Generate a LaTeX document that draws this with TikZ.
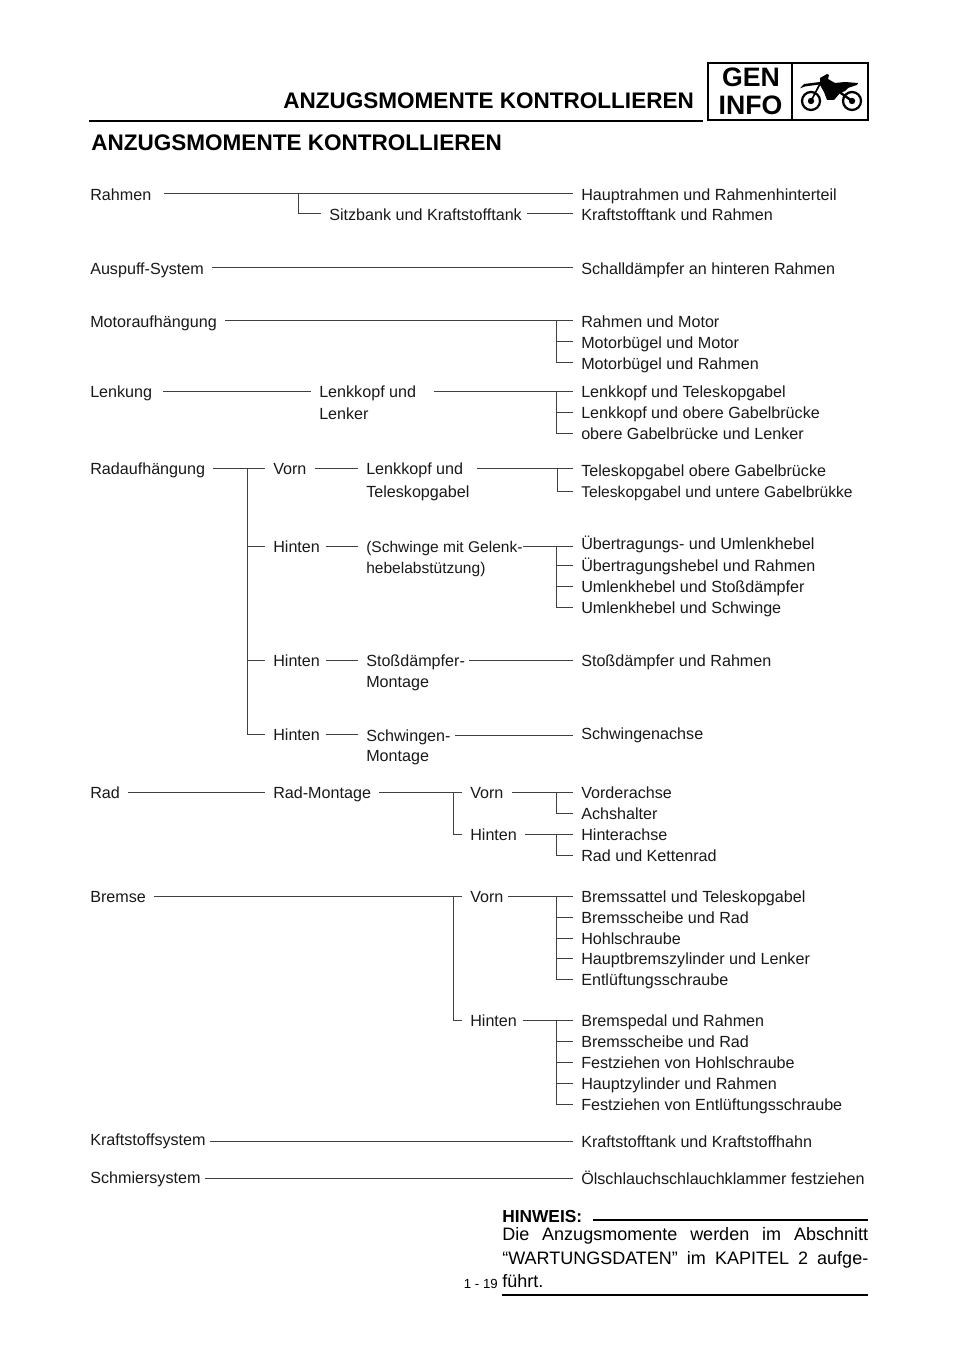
\documentclass[tikz,border=0pt]{standalone}
\usepackage{fontspec}
\setmainfont{Liberation Sans}
\tikzset{
  x=0.75pt,y=-0.75pt,
  lbl/.style={anchor=west,inner xsep=6pt,inner ysep=0pt,text height=9.6pt,text depth=0pt,font=\fontsize{12.1}{14}\selectfont,text=black!90},
  conn/.style={draw=black!75,line width=0.75pt},
  heavy/.style={draw=black,line width=1.8pt},
  ttl/.style={anchor=west,inner sep=0pt,text height=12.6pt,text depth=0pt,font=\fontsize{16.9}{20}\bfseries\selectfont},
  note/.style={anchor=west,inner sep=0pt,text height=9pt,text depth=0pt,font=\fontsize{13.5}{15}\selectfont},
}
\newcommand{\lbx}[5][]{\node[lbl,#1] (#2) at ({#3-8},#4) {#5};}
\begin{document}
\begin{tikzpicture}
\useasboundingbox (0,0) rectangle (960,1358);
\fill[white] (0,0) rectangle (960,1358);
% header
\node[ttl] (h1) at (283,100) {ANZUGSMOMENTE KONTROLLIEREN};
\coordinate (hl) at (89,121); \coordinate (hr) at (703,121);
\draw[heavy] (hl) -- (hr);
\node[ttl] (h2) at (91,142) {ANZUGSMOMENTE KONTROLLIEREN};
\node[draw=black,line width=1.8pt,minimum width=120pt,minimum height=42.75pt,inner sep=0pt,outer sep=0pt,anchor=north west] (box) at (708,63) {};
\coordinate (dt) at (792,63); \coordinate (db) at (792,120);
\draw[line width=1.5pt] (dt) -- (db);
\node[inner sep=0pt,font=\fontsize{20}{22}\bfseries\selectfont] (gen) at (751,77.5) {GEN};
\node[inner sep=0pt,font=\fontsize{20}{22}\bfseries\selectfont] (info) at (750.5,105) {INFO};
% motorbike
\draw[line width=1.7pt] (811,101) circle (9);
\draw[line width=1.7pt] (852,101) circle (9);
\fill (811,101) circle (3.2); \fill (852,101) circle (3.2);
\fill (800,88.3) -- (804,84) -- (812,83) -- (820,82) -- (820,84.5) -- (812,85.5) -- (805,86.5) -- cycle;
\draw[line width=1.3pt] (811,101) -- (822,80);
\draw[line width=1.8pt] (852,101) -- (838,91);
\fill (820,78) -- (827,74) -- (829,75) -- (828,79) -- (835,83) -- (845,82) -- (858,83) -- (857,85) -- (848,88) -- (845,91) -- (840,93) -- (834,100) -- (827,100) -- (824,92) -- (820,85) -- cycle;
% left column
\lbx{rahmen}{90}{194}{Rahmen}
\lbx{auspuff}{90}{268}{Auspuff-System}
\lbx{motor}{90}{321}{Motoraufhängung}
\lbx{lenkung}{90}{391}{Lenkung}
\lbx{radauf}{90}{468}{Radaufhängung}
\lbx{rad}{90}{792}{Rad}
\lbx{bremse}{90}{896}{Bremse}
\lbx{ksys}{90}{1139}{Kraftstoffsystem}
\lbx{schmier}{90}{1177}{Schmiersystem}
% right column
\lbx{r1}{581}{194}{Hauptrahmen und Rahmenhinterteil}
\lbx{r2}{581}{214}{Kraftstofftank und Rahmen}
\lbx{r3}{581}{268}{Schalldämpfer an hinteren Rahmen}
\lbx{r4}{581}{321}{Rahmen und Motor}
\lbx{r5}{581}{342}{Motorbügel und Motor}
\lbx{r6}{581}{363}{Motorbügel und Rahmen}
\lbx{r7}{581}{391}{Lenkkopf und Teleskopgabel}
\lbx{r8}{581}{412}{Lenkkopf und obere Gabelbrücke}
\lbx{r9}{581}{433}{obere Gabelbrücke und Lenker}
\lbx{r10}{581}{470}{Teleskopgabel obere Gabelbrücke}
\lbx[font=\fontsize{11.7}{14}\selectfont]{r11}{581}{491}{Teleskopgabel und untere Gabelbrükke}
\lbx{r12}{581}{543}{Übertragungs- und Umlenkhebel}
\lbx{r13}{581}{565}{Übertragungshebel und Rahmen}
\lbx{r14}{581}{586}{Umlenkhebel und Stoßdämpfer}
\lbx{r15}{581}{607}{Umlenkhebel und Schwinge}
\lbx{r16}{581}{660}{Stoßdämpfer und Rahmen}
\lbx{r17}{581}{733}{Schwingenachse}
\lbx{r18}{581}{792}{Vorderachse}
\lbx{r19}{581}{813}{Achshalter}
\lbx{r20}{581}{834}{Hinterachse}
\lbx{r21}{581}{855}{Rad und Kettenrad}
\lbx{r22}{581}{896}{Bremssattel und Teleskopgabel}
\lbx{r23}{581}{917}{Bremsscheibe und Rad}
\lbx{r24}{581}{938}{Hohlschraube}
\lbx{r25}{581}{958}{Hauptbremszylinder und Lenker}
\lbx{r26}{581}{979}{Entlüftungsschraube}
\lbx{r27}{581}{1020}{Bremspedal und Rahmen}
\lbx{r28}{581}{1041}{Bremsscheibe und Rad}
\lbx{r29}{581}{1062}{Festziehen von Hohlschraube}
\lbx{r30}{581}{1083}{Hauptzylinder und Rahmen}
\lbx{r31}{581}{1104}{Festziehen von Entlüftungsschraube}
\lbx{r32}{581}{1141}{Kraftstofftank und Kraftstoffhahn}
\lbx{r33}{581}{1178}{Ölschlauchschlauchklammer festziehen}
% middle
\lbx{sitz}{329}{214}{Sitzbank und Kraftstofftank}
\lbx{lk}{319}{391}{Lenkkopf und}
\lbx{lk2}{319}{413}{Lenker}
\lbx{vorn}{273}{468}{Vorn}
\lbx{lt}{366}{468}{Lenkkopf und}
\lbx{lt2}{366}{491}{Teleskopgabel}
\lbx{hi1}{273}{546}{Hinten}
\lbx[font=\fontsize{11.65}{14}\selectfont]{sg}{366}{546}{(Schwinge mit Gelenk-}
\lbx[font=\fontsize{11.65}{14}\selectfont]{sg2}{366}{567}{hebelabstützung)}
\lbx{hi2}{273}{660}{Hinten}
\lbx{st}{366}{660}{Stoßdämpfer-}
\lbx{st2}{366}{681}{Montage}
\lbx{hi3}{273}{734}{Hinten}
\lbx{sw}{366}{735}{Schwingen-}
\lbx{sw2}{366}{755}{Montage}
\lbx{rm}{273}{792}{Rad-Montage}
\lbx{vr}{470}{792}{Vorn}
\lbx{hr2}{470}{834}{Hinten}
\lbx{vb}{470}{896}{Vorn}
\lbx{hb}{470}{1020}{Hinten}
% junctions
\coordinate (j1) at (298,194);
\coordinate (j2) at (556,321);
\coordinate (j3) at (556,391);
\coordinate (j4) at (247,468);
\coordinate (j5) at (557,468);
\coordinate (j6) at (556,546);
\coordinate (j7) at (453,792);
\coordinate (j8) at (556,792);
\coordinate (j9) at (556,834);
\coordinate (j10) at (453,896);
\coordinate (j11) at (556,896);
\coordinate (j12) at (556,1020);
% connectors
\draw[conn,shorten <=3pt] (rahmen.east) -- (r1.west);
\draw[conn] (j1) |- (sitz.west);
\draw[conn,shorten <=-2pt] (sitz.east) -- (r2.west);
\draw[conn] (auspuff.east) -- (r3.west);
\draw[conn] (motor.east) -- (r4.west);
\draw[conn] (j2) |- (r5.west);
\draw[conn] (j2) |- (r6.west);
\draw[conn,shorten <=2pt] (lenkung.east) -- (lk.west);
\draw[conn,shorten <=7pt] (lk.east) -- (r7.west);
\draw[conn] (j3) |- (r8.west);
\draw[conn] (j3) |- (r9.west);
\draw[conn] (radauf.east) -- (vorn.west);
\draw[conn] (j4) |- (hi1.west);
\draw[conn] (j4) |- (hi2.west);
\draw[conn] (j4) |- (hi3.west);
\draw[conn] (vorn.east) -- (lt.west);
\draw[conn,shorten <=4pt] (lt.east) -- (lt.east -| r10.west);
\draw[conn] (j5) |- (r11.west);
\draw[conn,shorten <=-1.5pt] (hi1.east) -- (sg.west);
\draw[conn,shorten <=-6pt] (sg.east) -- (sg.east -| r12.west);
\draw[conn] (j6) |- (r13.west);
\draw[conn] (j6) |- (r14.west);
\draw[conn] (j6) |- (r15.west);
\draw[conn,shorten <=-1.5pt] (hi2.east) -- (st.west);
\draw[conn,shorten <=-3pt] (st.east) -- (r16.west);
\draw[conn,shorten <=-1.5pt] (hi3.east) -- (hi3.east -| sw.west);
\draw[conn,shorten <=-3pt] (sw.east) -- (sw.east -| r17.west);
\draw[conn] (rad.east) -- (rm.west);
\draw[conn] (rm.east) -- (vr.west);
\draw[conn] (j7) |- (hr2.west);
\draw[conn] (vr.east) -- (r18.west);
\draw[conn] (j8) |- (r19.west);
\draw[conn] (hr2.east) -- (r20.west);
\draw[conn] (j9) |- (r21.west);
\draw[conn] (bremse.east) -- (vb.west);
\draw[conn] (j10) |- (hb.west);
\draw[conn,shorten <=-3pt] (vb.east) -- (r22.west);
\draw[conn] (j11) |- (r23.west);
\draw[conn] (j11) |- (r24.west);
\draw[conn] (j11) |- (r25.west);
\draw[conn] (j11) |- (r26.west);
\draw[conn,shorten <=-2pt] (hb.east) -- (r27.west);
\draw[conn] (j12) |- (r28.west);
\draw[conn] (j12) |- (r29.west);
\draw[conn] (j12) |- (r30.west);
\draw[conn] (j12) |- (r31.west);
\draw[conn,shorten <=-3pt] (ksys.east |- r32.west) -- (r32.west);
\draw[conn,shorten <=-3pt] (schmier.east |- r33.west) -- (r33.west);
% note
\node[note,font=\fontsize{13}{15}\bfseries\selectfont] (hw) at (502,1216) {HINWEIS:};
\coordinate (nl) at (593,1220); \coordinate (nr) at (868,1220);
\draw[heavy] (nl) -- (nr);
\node[note] (n1) at (502,1234) {\hbox to 274.5pt{Die\hfill Anzugsmomente\hfill werden\hfill im\hfill Abschnitt}};
\node[note] (n2) at (502,1258) {\hbox to 274.5pt{“WARTUNGSDATEN”\hfill im\hfill KAPITEL\hfill 2\hfill aufge-}};
\node[note] (n3) at (502,1281) {führt.};
\node[anchor=east,inner sep=0pt,font=\fontsize{9.9}{12}\selectfont] (pg) at (498,1284) {1 - 19};
\coordinate (bl) at (502,1295); \coordinate (br) at (868,1295);
\draw[heavy] (bl) -- (br);
\end{tikzpicture}
\end{document}
